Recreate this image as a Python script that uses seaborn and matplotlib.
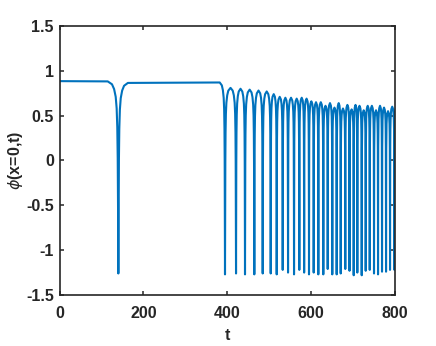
import numpy as np
import pandas as pd
import seaborn as sns
import matplotlib
matplotlib.use("Agg")
import matplotlib.pyplot as plt


LINE_COLOR = '#0072BD'
AXIS_COLOR = '#262626'

# flat part before the oscillations: level at t=0, around the isolated dip,
# and just before the train of dips starts
flat_t = [0, 115, 163, 382]
flat_v = [0.885, 0.882, 0.865, 0.87]

# the isolated dip
first_dip_t = 140.3
first_dip_v = -1.26

# train of dips after t ~ 395
dip_t = [394.6, 420.9, 442.3, 464.5, 484.5, 503.6, 517.9, 532.2, 544.9, 559.2,
         571.8, 583.3, 594.9, 606.1, 617.1, 629.0, 639.5, 650.4, 660.9, 670.5,
         681.4, 691.5, 701.5, 710.1, 720.6, 730.1, 739.7, 749.9, 759.5, 769.0,
         778.6, 788.1, 798.5]
dip_v = [-1.27, -1.26, -1.27, -1.27, -1.26, -1.26, -1.27, -1.22, -1.25, -1.27,
         -1.22, -1.25, -1.27, -1.25, -1.27, -1.27, -1.21, -1.27, -1.27, -1.26,
         -1.21, -1.23, -1.28, -1.25, -1.28, -1.23, -1.22, -1.26, -1.27, -1.24,
         -1.24, -1.22, -1.22]
# top of the hump that follows each dip
peak_v = [0.81, 0.80, 0.79, 0.78, 0.77, 0.74, 0.71, 0.70, 0.70, 0.69,
          0.70, 0.69, 0.66, 0.65, 0.65, 0.61, 0.64, 0.59, 0.64, 0.58,
          0.62, 0.57, 0.62, 0.61, 0.56, 0.61, 0.61, 0.56, 0.61, 0.59,
          0.55, 0.60, 0.60]

# profile of one dip, read off the isolated one: fraction of the way from the
# bottom to the neighbouring top, and fraction of the depth still left
shape_s = [0, 0.03, 0.06, 0.1, 0.16, 0.25, 0.4, 0.6, 1.0]
shape_f = [1, 0.65, 0.4, 0.24, 0.14, 0.08, 0.04, 0.015, 0]

xticks = [0, 200, 400, 600, 800]
xtick_labels = ['0', '200', '400', '600', '800']
yticks = [-1.5, -1, -0.5, 0, 0.5, 1, 1.5]
ytick_labels = ['-1.5', '-1', '-0.5', '0', '0.5', '1', '1.5']


def dip_points(t_left, v_left, t_dip, v_dip, t_right, v_right):
    pts = []
    for s, f in zip(shape_s[::-1], shape_f[::-1]):
        pts.append((t_dip - s * (t_dip - t_left), v_left - f * (v_left - v_dip)))
    for s, f in zip(shape_s[1:], shape_f[1:]):
        pts.append((t_dip + s * (t_right - t_dip), v_right - f * (v_right - v_dip)))
    return pts


def build_curve():
    pts = [(flat_t[0], flat_v[0])]
    pts += dip_points(flat_t[1], flat_v[1], first_dip_t, first_dip_v,
                      flat_t[2], flat_v[2])

    tops_t = [(a + b) / 2 for a, b in zip(dip_t[:-1], dip_t[1:])]
    tops_t.append(dip_t[-1] + (dip_t[-1] - dip_t[-2]) / 2)

    left_t, left_v = flat_t[3], flat_v[3]
    for i in range(len(dip_t)):
        seg = dip_points(left_t, left_v, dip_t[i], dip_v[i], tops_t[i], peak_v[i])
        if i > 0:
            seg = seg[1:]
        pts += seg
        left_t, left_v = tops_t[i], peak_v[i]
    return pd.DataFrame(pts, columns=['t', 'phi'])


def main():
    sns.set_style('ticks')
    plt.rcParams['font.family'] = ['Liberation Sans', 'DejaVu Sans']
    plt.rcParams['axes.unicode_minus'] = False

    df = build_curve()

    fig = plt.figure(figsize=(4.36, 3.46), dpi=100)
    ax = fig.add_axes([0.1365, 0.1474, 0.7695, 0.7775])

    sns.lineplot(data=df, x='t', y='phi', sort=False, estimator=None,
                 color=LINE_COLOR, linewidth=1.5, ax=ax)

    ax.set_xlim(0, 800)
    ax.set_ylim(-1.5, 1.5)
    ax.set_xticks(xticks)
    ax.set_xticklabels(xtick_labels)
    ax.set_yticks(yticks)
    ax.set_yticklabels(ytick_labels)

    ax.tick_params(direction='in', length=3, width=1.1, color=AXIS_COLOR,
                   labelcolor=AXIS_COLOR, labelsize=11.5,
                   top=True, right=True)
    ax.tick_params(axis='x', pad=8)
    ax.tick_params(axis='y', pad=4)
    for lab in ax.get_xticklabels() + ax.get_yticklabels():
        lab.set_fontweight('bold')

    for sp in ax.spines.values():
        sp.set_visible(True)
        sp.set_color(AXIS_COLOR)
        sp.set_linewidth(1.2)

    ax.set_xlabel('t', fontsize=11.5, fontweight='bold', color=AXIS_COLOR,
                  labelpad=5)
    ax.set_ylabel(r'$\phi$(x=0,t)', fontsize=11.5, fontweight='bold',
                  color=AXIS_COLOR, labelpad=1)

    fig.savefig('out.png', dpi=100)


if __name__ == '__main__':
    main()
